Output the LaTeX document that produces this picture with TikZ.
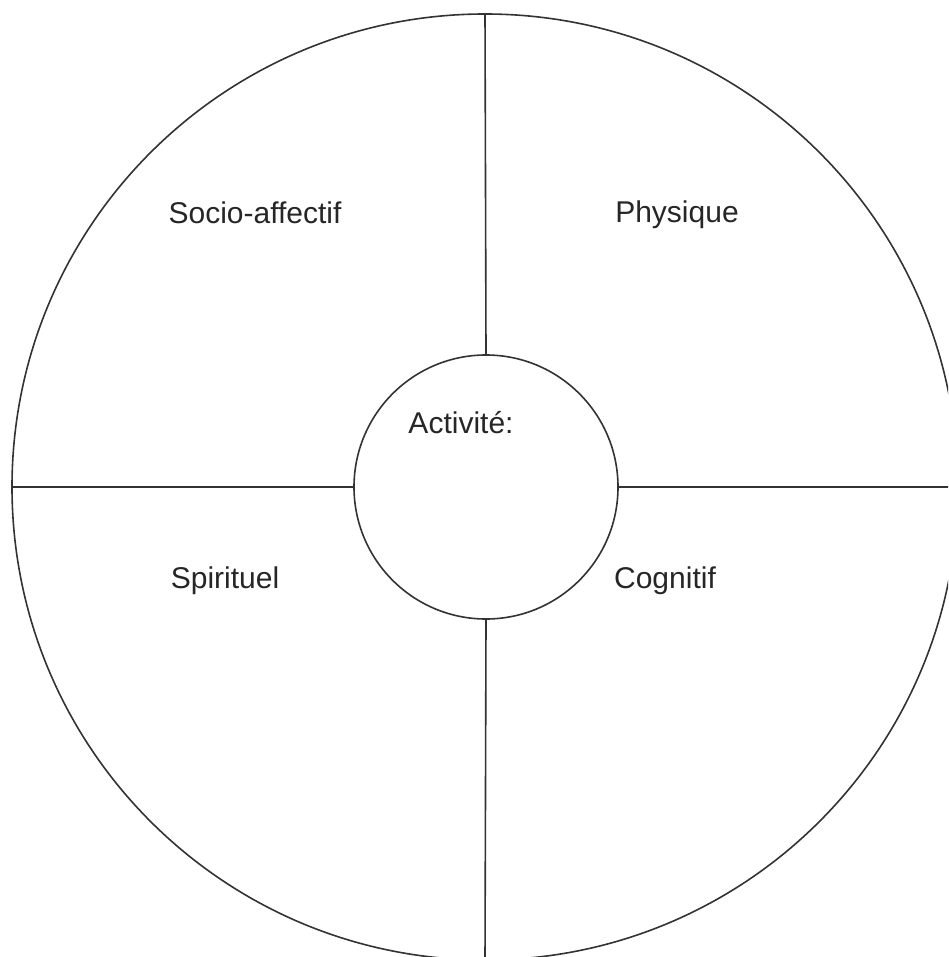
\documentclass[tikz,border=0pt]{standalone}
\usepackage{fontspec}
\setmainfont{Liberation Sans}
\begin{document}
\begin{tikzpicture}[x=1pt,y=-1pt,
  ring/.style={circle,draw=black!80,line width=1.6pt,fill=white,inner sep=0pt},
  sep/.style={draw=black!80,line width=1.6pt},
  lbl/.style={font=\fontsize{30}{36}\selectfont,text=black!85,inner sep=0pt}]
\useasboundingbox (0,0) rectangle (948,957);
\clip (0,0) rectangle (948,957);
\node[ring,minimum size=946pt] (outer) at (485,487) {};
\node[ring,minimum size=264pt] (inner) at (486,487) {};
\draw[sep] (outer.north) -- (inner.north);
\draw[sep] (inner.south) -- (outer.south);
\draw[sep] (outer.west) -- (inner.west);
\draw[sep] (inner.east) -- (outer.east);
\node[lbl] (socio) at (255,213) {Socio-affectif};
\node[lbl] (phys) at (677,215) {Physique};
\node[lbl] (act) at (461,423) {Activité:};
\node[lbl] (spir) at (225,581) {Spirituel};
\node[lbl] (cogn) at (665,581) {Cognitif};
\end{tikzpicture}
\end{document}
